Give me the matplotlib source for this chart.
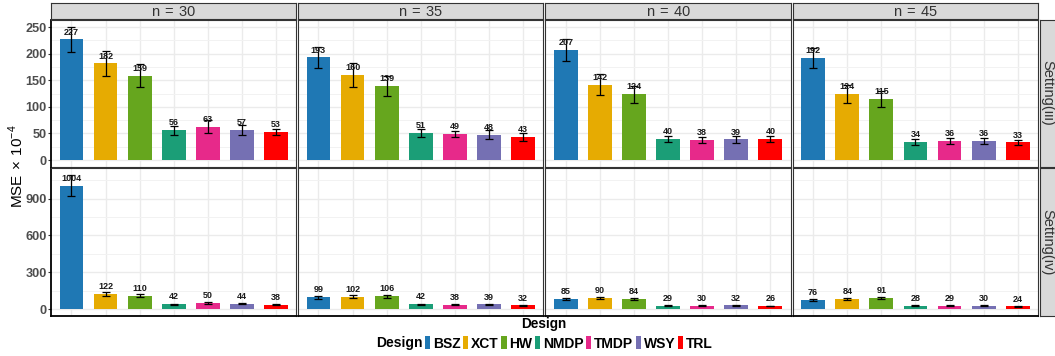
import matplotlib.pyplot as plt
from matplotlib.patches import Patch
from matplotlib.ticker import MultipleLocator

plt.rcParams['font.family'] = ['Liberation Sans', 'DejaVu Sans']
plt.rcParams['mathtext.fontset'] = 'custom'
plt.rcParams['mathtext.rm'] = 'Liberation Sans'

designs = ['BSZ', 'XCT', 'HW', 'NMDP', 'TMDP', 'WSY', 'TRL']
colors = ['#1F78B4', '#E6AB02', '#66A61E', '#1B9E77', '#E7298A', '#7570B3', '#FF0000']
sample_sizes = [30, 35, 40, 45]
settings = ['Setting(iii)', 'Setting(iv)']

# MSE x 1e-4, one list per sample size
mse_iii = [
    [227, 182, 159, 56, 63, 57, 53],
    [193, 160, 139, 51, 49, 48, 43],
    [207, 142, 124, 40, 38, 39, 40],
    [192, 124, 115, 34, 36, 36, 33],
]
err_iii = [
    [24, 24, 21, 8, 12, 9, 6],
    [20, 22, 19, 8, 6, 8, 7],
    [20, 20, 16, 6, 6, 7, 6],
    [19, 17, 15, 5, 5, 5, 4],
]
mse_iv = [
    [1004, 122, 110, 42, 50, 44, 38],
    [99, 102, 106, 42, 38, 39, 32],
    [85, 90, 84, 29, 30, 32, 26],
    [76, 84, 91, 28, 29, 30, 24],
]
err_iv = [
    [87, 16, 13, 5, 7, 5, 5],
    [13, 12, 13, 4, 4, 4, 3],
    [10, 10, 10, 3, 3, 3, 3],
    [9, 9, 8, 3, 3, 3, 3],
]

rows_data = [(mse_iii, err_iii, 50, 25), (mse_iv, err_iv, 300, 150)]

W, H = 1055, 356
fig = plt.figure(figsize=(W / 100, H / 100), dpi=100)


def box(x0, y0, x1, y1):
    # pixel box measured from the top-left corner -> figure fraction
    return [x0 / W, 1 - y1 / H, (x1 - x0) / W, (y1 - y0) / H]


col_left = [51, 298, 545.3, 792.7]
col_w = 245.5
row_span = [(20, 166.7), (168.3, 316)]
xpos = list(range(1, len(designs) + 1))

for r, (mse, err, major, minor) in enumerate(rows_data):
    top = max(v + e for vals, errs in zip(mse, err) for v, e in zip(vals, errs))
    ylo, yhi = -0.05 * top, top * 1.05
    y0, y1 = row_span[r]
    for c in range(len(sample_sizes)):
        ax = fig.add_axes(box(col_left[c], y0, col_left[c] + col_w, y1))
        ax.set_axisbelow(True)
        ax.bar(xpos, mse[c], width=0.7, color=colors)
        ax.errorbar(xpos, mse[c], yerr=err[c], fmt='none', ecolor='black',
                    elinewidth=0.9, capsize=2.6, capthick=0.9)
        for x, v in zip(xpos, mse[c]):
            ax.annotate(str(v), (x, v), xytext=(0, 2.0), textcoords='offset points',
                        ha='center', va='bottom', fontsize=6.5, fontweight='bold',
                        color='#1A1A1A')
        ax.set_xlim(0.4, 7.6)
        ax.set_ylim(ylo, yhi)
        ax.set_xticks(xpos)
        ax.yaxis.set_major_locator(MultipleLocator(major))
        ax.yaxis.set_minor_locator(MultipleLocator(minor))
        ax.grid(which='major', color='#EBEBEB', lw=1.0)
        ax.grid(which='minor', axis='y', color='#F2F2F2', lw=0.7)
        ax.tick_params(axis='x', length=0, labelbottom=False)
        ax.tick_params(axis='y', which='minor', length=0)
        if c == 0:
            ax.tick_params(axis='y', which='major', length=2, width=0.8, color='#333333',
                           pad=1, labelsize=9.2, labelcolor='#4D4D4D')
            for lab in ax.get_yticklabels():
                lab.set_fontweight('bold')
        else:
            ax.tick_params(axis='y', which='major', length=0, labelleft=False)
        for side, sp in ax.spines.items():
            sp.set_color('#333333')
            sp.set_linewidth(0.8)
        if c == 0:
            ax.spines['left'].set_color('black')
            ax.spines['left'].set_linewidth(1.3)
        if r == 1:
            ax.spines['bottom'].set_color('black')
            ax.spines['bottom'].set_linewidth(1.3)

    # facet strip on the right
    sx = fig.add_axes(box(1039.5, y0, 1057, y1))
    sx.set_facecolor('#D9D9D9')
    sx.set_xticks([])
    sx.set_yticks([])
    for sp in sx.spines.values():
        sp.set_color('#333333')
        sp.set_linewidth(0.8)
    sx.text(0.45, 0.5, settings[r], rotation=-90, ha='center', va='center',
            fontsize=10.5, color='#333333', transform=sx.transAxes)

# facet strips on top
for c, n in enumerate(sample_sizes):
    sx = fig.add_axes(box(col_left[c], 3, col_left[c] + col_w, 19.3))
    sx.set_facecolor('#D9D9D9')
    sx.set_xticks([])
    sx.set_yticks([])
    for sp in sx.spines.values():
        sp.set_color('#333333')
        sp.set_linewidth(0.8)
    sx.text(0.5, 0.45, f'n$\\,=\\,${n}', ha='center', va='center', fontsize=10.5,
            color='#333333', transform=sx.transAxes)

fig.text(16 / W, 1 - 166 / H, r'MSE$\,\times\,10^{-4}$', rotation=90, ha='center',
         va='center', fontsize=11, color='black')
fig.text(544 / W, 1 - 324 / H, 'Design', ha='center', va='center', fontsize=9.8,
         fontweight='bold', color='black')

fig.text(423 / W, 1 - 343.5 / H, 'Design', ha='right', va='center', fontsize=10,
         fontweight='bold', color='black')
handles = [Patch(facecolor=col, edgecolor='none') for col in colors]
fig.legend(handles, designs, loc='center left', bbox_to_anchor=(425 / W, 1 - 343.5 / H),
           ncol=len(designs), frameon=False, borderpad=0, borderaxespad=0,
           handlelength=0.38, handleheight=1.05, handletextpad=0.18, columnspacing=0.2,
           prop={'weight': 'bold', 'size': 10})

fig.savefig('out.png', dpi=100)
